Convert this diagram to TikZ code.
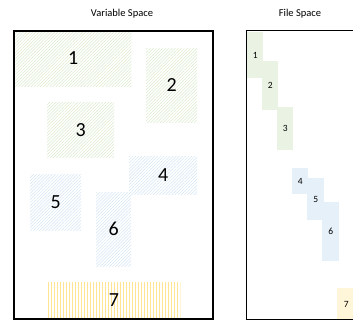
\documentclass[tikz,border=0pt]{standalone}
\usepackage{fontspec}
\setmainfont{Carlito}
\usetikzlibrary{patterns.meta}
\definecolor{gcol}{HTML}{A9D18E}
\definecolor{bcol}{HTML}{9DC3E6}
\definecolor{ycol}{HTML}{FFD966}
\tikzset{
  blk/.style={inner sep=0pt, anchor=north west, font=\fontsize{20}{24}\selectfont},
  sblk/.style={inner sep=0pt, anchor=north west, font=\fontsize{9.5}{11}\selectfont},
  ghatch/.style={pattern={Lines[angle=45,distance=2.2pt,line width=0.5pt]}, pattern color=gcol!45},
  bhatch/.style={pattern={Lines[angle=45,distance=2.2pt,line width=0.5pt]}, pattern color=bcol!45},
  yhatch/.style={pattern={Lines[angle=90,distance=3pt,line width=0.8pt]}, pattern color=ycol!70},
  gfine/.style={fill=gcol!25},
  bfine/.style={fill=bcol!25},
  yfine/.style={fill=ycol!25},
  title/.style={font=\fontsize{10.5}{12}\selectfont, inner sep=0pt},
}
\begin{document}
\begin{tikzpicture}[x=1pt,y=-1pt]
\useasboundingbox (0,0) rectangle (353,320);
\clip (0,0) rectangle (353,320);
% titles
\node[title] (vt) at (122,14) {Variable Space};
\node[title] (ft) at (300,14) {File Space};
% variable space blocks
\node[blk, ghatch, minimum width=116, minimum height=56] (v1) at (15,30) {1};
\node[blk, ghatch, minimum width=51, minimum height=74] (v2) at (146,48) {2};
\node[blk, ghatch, minimum width=67, minimum height=55] (v3) at (47,102) {3};
\node[blk, bhatch, minimum width=68, minimum height=38] (v4) at (129,156) {4};
\node[blk, bhatch, minimum width=51, minimum height=56] (v5) at (30,174) {5};
\node[blk, bhatch, minimum width=35, minimum height=74] (v6) at (96,192) {6};
\node[blk, yhatch, minimum width=133, minimum height=36] (v7) at (47,282) {7};
% file space blocks
\node[sblk, gfine, minimum width=16, minimum height=46] (f1) at (247,32) {1};
\node[sblk, gfine, minimum width=16, minimum height=49] (f2) at (262,61) {2};
\node[sblk, gfine, minimum width=16, minimum height=43] (f3) at (277,107) {3};
\node[sblk, bfine, minimum width=16, minimum height=26] (f4) at (292,168) {4};
\node[sblk, bfine, minimum width=17, minimum height=42] (f5) at (307,178) {5};
\node[sblk, bfine, minimum width=17, minimum height=59] (f6) at (322,202) {6};
\node[sblk, yfine, minimum width=18, minimum height=32] (f7) at (337,288) {7};
% frames
\node[draw, line width=2pt, inner sep=0pt, anchor=north west, minimum width=199, minimum height=288] (vspace) at (13,30) {};
\node[draw, line width=1pt, inner sep=0pt, anchor=north west, minimum width=130, minimum height=289] (fspace) at (246,30) {};
\end{tikzpicture}
\end{document}
